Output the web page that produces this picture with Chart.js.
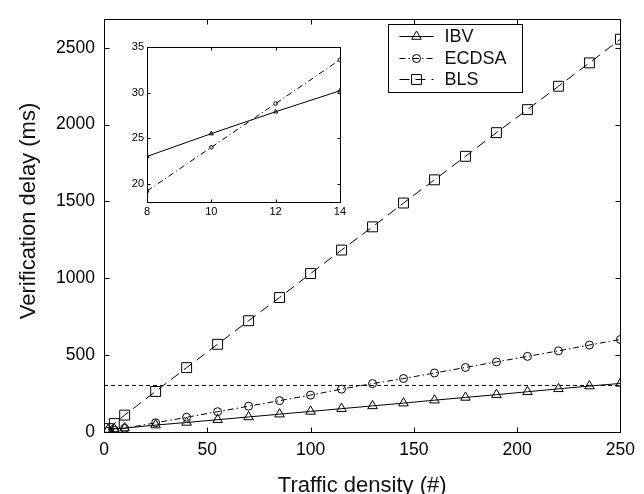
<!DOCTYPE html>
<html>
<head>
<meta charset="utf-8">
<title>Verification delay vs traffic density</title>
<script src="https://cdn.jsdelivr.net/npm/chart.js@4.4.1/dist/chart.umd.min.js"></script>
<style>
  html, body { margin: 0; padding: 0; background: #fff; }
  #wrap { position: relative; width: 644px; height: 494px; }
  #main { position: absolute; left: 0; top: 0; }
  #inset { position: absolute; left: 110px; top: 38px; }
</style>
</head>
<body>
<div id="wrap">
  <canvas id="main" width="644" height="494"></canvas>
  <canvas id="inset" width="240" height="185"></canvas>
</div>
<script>
// values
const density    = [2, 5, 10, 25, 40, 55, 70, 85, 100, 115, 130, 145, 160, 175, 190, 205, 220, 235, 250];
const ibvDelay   = [16, 20, 25.5, 45, 62, 80, 98, 116, 134, 152, 170, 188, 207, 225, 243, 262, 281, 299, 316];
const ecdsaDelay = [5, 12, 24, 60, 96, 132, 168, 204, 240, 279, 315, 348, 384, 420, 456, 492, 528, 566, 602];
const blsDelay   = [22, 55, 110, 264, 419, 571, 724, 875, 1031, 1184, 1335, 1490, 1641, 1794, 1948, 2098, 2250, 2402, 2556];
const thresholdDelay = 303;

const xTicks = [0, 50, 100, 150, 200, 250];
const yTicks = [0, 500, 1000, 1500, 2000, 2500];

// zoomed inset
const insetDensity = [8, 10, 12, 14];
const insetIbv     = [23.0, 25.5, 27.9, 30.2];
const insetEcdsa   = [19.2, 24.0, 28.8, 33.6];
const insetXTicks  = [8, 10, 12, 14];
const insetYTicks  = [20, 25, 30, 35];

const seriesNames = ['IBV', 'ECDSA', 'BLS'];
const xTitle = 'Traffic density (#)';
const yTitle = 'Verification delay (ms)';

const FONT = '"Liberation Sans", Arial, Helvetica, sans-serif';
Chart.defaults.font.family = FONT;
Chart.defaults.color = '#000';

const pts = (xs, ys) => xs.map((v, i) => ({ x: v, y: ys[i] }));
const fixTicks = list => scale => { scale.ticks = list.map(v => ({ value: v })); };
const plain = v => String(v);

// box frame with inward ticks on all four sides (matlab look)
const framePlugin = {
  id: 'frame',
  afterDraw(chart, args, opts) {
    const { ctx, chartArea: a, scales: { x, y } } = chart;
    const len = opts.tickLength || 5;
    const r = v => Math.round(v) + 0.5;
    ctx.save();
    ctx.strokeStyle = '#000';
    ctx.lineWidth = 1;
    ctx.beginPath();
    x.ticks.forEach(t => {
      const px = r(x.getPixelForValue(t.value));
      ctx.moveTo(px, r(a.bottom)); ctx.lineTo(px, r(a.bottom) - len);
      ctx.moveTo(px, r(a.top)); ctx.lineTo(px, r(a.top) + len);
    });
    y.ticks.forEach(t => {
      const py = r(y.getPixelForValue(t.value));
      ctx.moveTo(r(a.left), py); ctx.lineTo(r(a.left) + len, py);
      ctx.moveTo(r(a.right), py); ctx.lineTo(r(a.right) - len, py);
    });
    ctx.stroke();
    ctx.strokeRect(r(a.left), r(a.top), Math.round(a.right) - Math.round(a.left), Math.round(a.bottom) - Math.round(a.top));
    ctx.restore();
  }
};

function marker(ctx, style, r, x, y) {
  ctx.beginPath();
  if (style === 'triangle') {
    ctx.moveTo(x, y - r);
    ctx.lineTo(x + r * 0.866, y + r / 2);
    ctx.lineTo(x - r * 0.866, y + r / 2);
    ctx.closePath();
  } else if (style === 'rect') {
    const s = r * Math.SQRT1_2;
    ctx.rect(x - s, y - s, 2 * s, 2 * s);
  } else {
    ctx.arc(x, y, r, 0, Math.PI * 2);
  }
  ctx.stroke();
}

const legendPlugin = {
  id: 'boxLegend',
  afterDraw(chart) {
    const ctx = chart.ctx;
    const box = { left: 388.5, top: 24.5, w: 134, h: 68 };
    ctx.save();
    ctx.fillStyle = '#fff';
    ctx.fillRect(box.left, box.top, box.w, box.h);
    ctx.strokeStyle = '#000';
    ctx.lineWidth = 1;
    ctx.strokeRect(box.left, box.top, box.w, box.h);
    ctx.font = '18px ' + FONT;
    ctx.textBaseline = 'middle';
    ctx.fillStyle = '#111';
    chart.data.datasets.filter(d => seriesNames.includes(d.label)).forEach((d, i) => {
      const yy = Math.round(box.top + 11.5 + i * 21.7) + 0.5;
      ctx.setLineDash(d.borderDash || []);
      ctx.beginPath();
      ctx.moveTo(box.left + 11, yy);
      ctx.lineTo(box.left + 45, yy);
      ctx.stroke();
      ctx.setLineDash([]);
      marker(ctx, d.pointStyle, d.pointRadius, box.left + 28, yy);
      ctx.fillText(d.label, box.left + 56, yy + 1);
    });
    ctx.restore();
  }
};

const titlePlugin = {
  id: 'axisTitles',
  afterDraw(chart) {
    const { ctx, chartArea: a } = chart;
    ctx.save();
    ctx.fillStyle = '#111';
    ctx.font = '22px ' + FONT;
    ctx.textAlign = 'center';
    ctx.textBaseline = 'alphabetic';
    ctx.fillText(xTitle, (a.left + a.right) / 2, 492);
    ctx.translate(35, 211);
    ctx.rotate(-Math.PI / 2);
    ctx.fillText(yTitle, 0, 0);
    ctx.restore();
  }
};

const lineStyle = {
  borderColor: '#000',
  borderWidth: 1,
  tension: 0,
  pointBackgroundColor: 'rgba(0,0,0,0)',
  pointBorderColor: '#000',
  pointBorderWidth: 1,
  pointHoverRadius: 0
};

new Chart(document.getElementById('main'), {
  type: 'line',
  data: {
    datasets: [
      { ...lineStyle, label: 'IBV', data: pts(density, ibvDelay), pointStyle: 'triangle', pointRadius: 5.5 },
      { ...lineStyle, label: 'ECDSA', data: pts(density, ecdsaDelay), pointStyle: 'circle', pointRadius: 4, borderDash: [6, 3, 1.5, 3] },
      { ...lineStyle, label: 'BLS', data: pts(density, blsDelay), pointStyle: 'rect', pointRadius: 7, borderDash: [10, 6] },
      { ...lineStyle, label: 'threshold', data: pts([xTicks[0], xTicks[xTicks.length - 1]], [thresholdDelay, thresholdDelay]),
        pointRadius: 0, borderDash: [4, 3] }
    ]
  },
  options: {
    responsive: false,
    animation: false,
    events: [],
    layout: { padding: { left: 0, right: 21, top: 10, bottom: 0 } },
    plugins: { legend: { display: false }, tooltip: { enabled: false }, frame: { tickLength: 5 } },
    scales: {
      x: {
        type: 'linear', min: 0, max: 250,
        afterBuildTicks: fixTicks(xTicks),
        afterFit: s => { s.height = 62; },
        grid: { display: true, drawOnChartArea: false, drawTicks: false },
        border: { display: false },
        ticks: { padding: 9, maxRotation: 0, callback: plain, font: { size: 17.5, lineHeight: 1.1 } }
      },
      y: {
        type: 'linear', min: 0, max: 2690,
        afterBuildTicks: fixTicks(yTicks),
        afterFit: s => { s.width = 104; },
        grid: { display: true, drawOnChartArea: false, drawTicks: false },
        border: { display: false },
        ticks: { padding: 9, callback: plain, font: { size: 17.5, lineHeight: 1.1 } }
      }
    }
  },
  plugins: [framePlugin, legendPlugin, titlePlugin]
});

new Chart(document.getElementById('inset'), {
  type: 'line',
  data: {
    datasets: [
      { ...lineStyle, label: 'IBV', data: pts(insetDensity, insetIbv), pointStyle: 'triangle', pointRadius: 2.4 },
      { ...lineStyle, label: 'ECDSA', data: pts(insetDensity, insetEcdsa), pointStyle: 'circle', pointRadius: 1.8, borderDash: [6, 3, 1, 3] }
    ]
  },
  options: {
    responsive: false,
    animation: false,
    events: [],
    layout: { padding: { left: 0, right: 9, top: 8, bottom: 0 } },
    plugins: { legend: { display: false }, tooltip: { enabled: false }, frame: { tickLength: 3 } },
    scales: {
      x: {
        type: 'linear', min: 8, max: 14,
        afterBuildTicks: fixTicks(insetXTicks),
        afterFit: s => { s.height = 21; },
        grid: { display: true, drawOnChartArea: false, drawTicks: false },
        border: { display: false },
        ticks: { padding: 4, maxRotation: 0, callback: plain, font: { size: 11, lineHeight: 1.1 } }
      },
      y: {
        type: 'linear', min: 18, max: 35,
        afterBuildTicks: fixTicks(insetYTicks),
        afterFit: s => { s.width = 37; },
        grid: { display: true, drawOnChartArea: false, drawTicks: false },
        border: { display: false },
        ticks: { padding: 3, callback: plain, font: { size: 11, lineHeight: 1.1 } }
      }
    }
  },
  plugins: [framePlugin]
});
</script>
</body>
</html>
